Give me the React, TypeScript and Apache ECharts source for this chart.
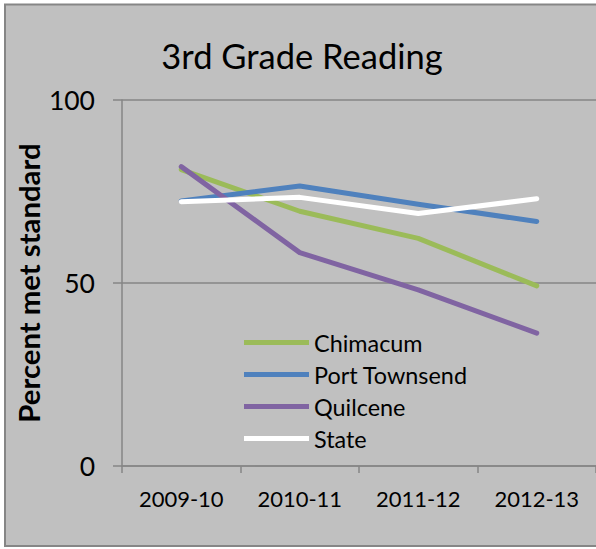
import React, { useEffect, useRef } from "react";
import * as echarts from "echarts";

const categories = ["2009-10", "2010-11", "2011-12", "2012-13"];
const chimacum = [81, 69.6, 62.2, 49.2];
const portTownsend = [72.4, 76.5, 71.5, 66.8];
const quilcene = [81.8, 58.3, 48.1, 36.3];
const state = [72.2, 73.4, 69.0, 73.0];
const yTicks = { min: 0, max: 100, interval: 50 };

const FONT = "Lato";

export default function App() {
  const ref = useRef<HTMLDivElement>(null);
  useEffect(() => {
    if (!ref.current) return;
    const chart = echarts.init(ref.current, null, { renderer: "svg" });
    const mk = (name: string, data: number[], color: string) => ({
      name,
      type: "line",
      data,
      symbol: "none",
      lineStyle: { width: 5, color, cap: "round", join: "round" },
      itemStyle: { color },
      z: 3,
    });
    chart.setOption({
      animation: false,
      backgroundColor: "#ffffff",
      textStyle: { fontFamily: FONT },
      graphic: [
        {
          type: "rect",
          z: -10,
          silent: true,
          shape: { x: 5, y: 4.5, width: 600, height: 541.5 },
          style: { fill: "#c0c0c0", stroke: "#868686", lineWidth: 2 },
        },
        {
          type: "text",
          x: 302,
          y: 55,
          style: {
            text: "3rd Grade Reading",
            fontFamily: FONT,
            fontSize: 34.5,
            fill: "#000000",
            textAlign: "center",
            textVerticalAlign: "middle",
          },
        },
      ],
      grid: { left: 122, top: 100, right: 0, bottom: 83, containLabel: false },
      legend: {
        orient: "vertical",
        left: 244,
        top: 331,
        padding: 0,
        icon: "rect",
        itemWidth: 65,
        itemHeight: 5,
        itemGap: 9,
        textStyle: { fontFamily: FONT, fontSize: 23.4, color: "#000", lineHeight: 23 },
        data: ["Chimacum", "Port Townsend", "Quilcene", "State"],
      },
      xAxis: {
        type: "category",
        data: categories,
        boundaryGap: true,
        axisLine: { lineStyle: { color: "#868686", width: 1.5 } },
        axisTick: { show: true, length: 7, lineStyle: { color: "#868686", width: 1.5 } },
        axisLabel: { fontFamily: FONT, fontSize: 22, color: "#000", margin: 21 },
        splitLine: { show: false },
      },
      yAxis: {
        type: "value",
        min: yTicks.min,
        max: yTicks.max,
        interval: yTicks.interval,
        name: "Percent met standard",
        nameLocation: "middle",
        nameRotate: 90,
        nameGap: 94,
        nameMoveOverlap: false,
        nameTextStyle: {
          fontFamily: FONT,
          fontSize: 29.3,
          fontWeight: "bold",
          color: "#000",
          align: "center",
          verticalAlign: "middle",
        },
        axisLine: { show: true, lineStyle: { color: "#868686", width: 1.5 } },
        axisTick: { show: true, inside: false, length: 9, lineStyle: { color: "#868686", width: 1.5 } },
        axisLabel: { fontFamily: FONT, fontSize: 26.5, color: "#000", margin: 27 },
        splitLine: { show: true, lineStyle: { color: "#868686", width: 1.5 } },
      },
      series: [
        mk("Chimacum", chimacum, "#9bbb59"),
        mk("Port Townsend", portTownsend, "#4f81bd"),
        mk("Quilcene", quilcene, "#8064a2"),
        mk("State", state, "#ffffff"),
      ],
    });
    return () => chart.dispose();
  }, []);
  return (
    <div
      ref={ref}
      style={{ position: "fixed", left: 0, top: 0, width: 596, height: 549 }}
    />
  );
}
